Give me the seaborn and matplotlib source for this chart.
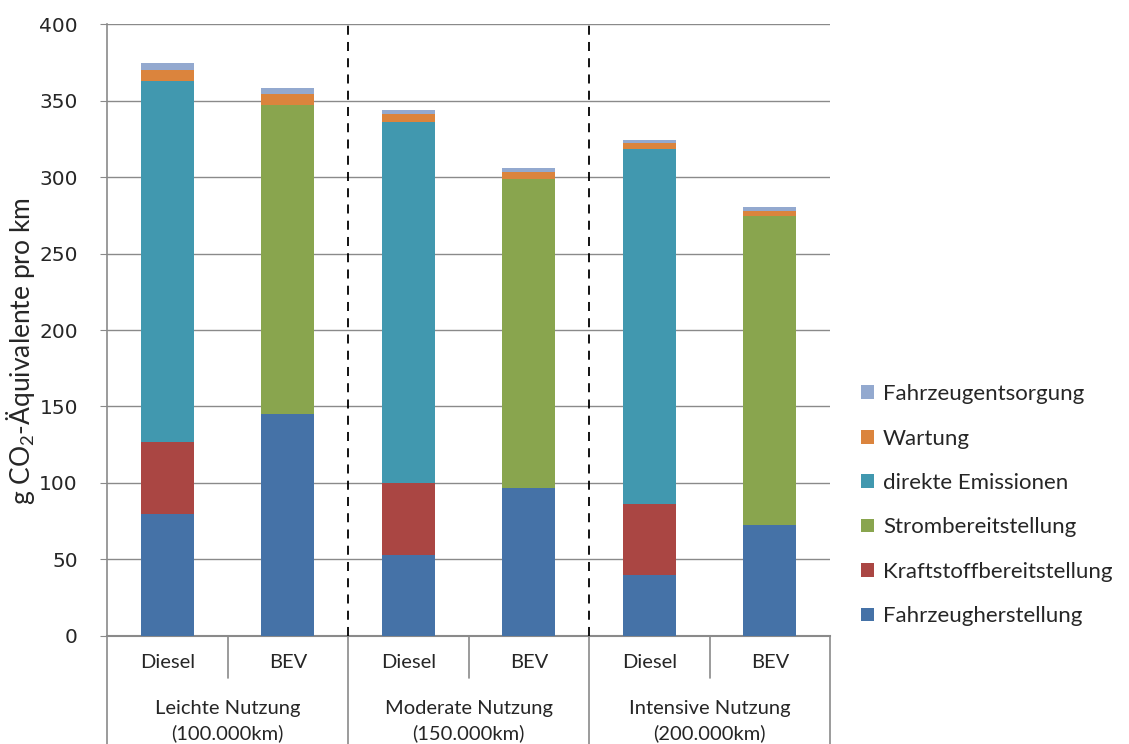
import numpy as np
import pandas as pd
import matplotlib
matplotlib.use("Agg")
import matplotlib.pyplot as plt
import seaborn as sns

# bar order: (use, powertrain)
bars = ["L-Diesel", "L-BEV", "M-Diesel", "M-BEV", "I-Diesel", "I-BEV"]
bar_labels = ["Diesel", "BEV", "Diesel", "BEV", "Diesel", "BEV"]
groups = ["Leichte Nutzung\n(100.000km)", "Moderate Nutzung\n(150.000km)", "Intensive Nutzung\n(200.000km)"]

# stack components, bottom to top
fahrzeugherstellung = [80, 145, 53, 97, 40, 72.5]
kraftstoffbereitstellung = [47, 0, 47, 0, 46, 0]
strombereitstellung = [0, 202, 0, 202, 0, 202]
direkte_emissionen = [236, 0, 236, 0, 232, 0]
wartung = [7, 7, 5, 4.5, 4, 3.5]
fahrzeugentsorgung = [4.5, 4.5, 3, 2.5, 2, 2.5]

components = ["Fahrzeugherstellung", "Kraftstoffbereitstellung", "Strombereitstellung",
              "direkte Emissionen", "Wartung", "Fahrzeugentsorgung"]
values = [fahrzeugherstellung, kraftstoffbereitstellung, strombereitstellung,
          direkte_emissionen, wartung, fahrzeugentsorgung]
colors = ["#4572A7", "#AA4643", "#89A54E", "#4198AF", "#DB843D", "#93A9CF"]

sns.set_style("white")
plt.rcParams['font.family'] = ['Lato', 'DejaVu Sans']
plt.rcParams['mathtext.default'] = 'regular'

df = pd.DataFrame(values, index=components, columns=bars).T
cum = df.cumsum(axis=1)

fig = plt.figure(figsize=(11.29, 7.44), dpi=100)
ax = fig.add_axes([0.0948, 0.1452, 0.6405, 0.8225])

# draw cumulative totals from top component down so each layer shows
for comp, col in reversed(list(zip(components, colors))):
    d = pd.DataFrame({"bar": bars, "val": cum[comp].values})
    sns.barplot(data=d, x="bar", y="val", order=bars, color=col, width=0.44,
                saturation=1, linewidth=0, ax=ax, label=comp, zorder=3)

ax.set_ylim(0, 400)
ax.set_xlim(-0.5, 5.5)
ax.set_yticks(np.arange(0, 401, 50))
ax.yaxis.grid(True, color="#8a8a8a", linewidth=1)
ax.set_axisbelow(True)
ax.set_xticks([])
ax.set_xlabel("")
ax.set_ylabel("g CO$_2$-Äquivalente pro km", fontsize=19)
ax.yaxis.set_label_coords(-0.097, 0.465)
for lab in ax.get_yticklabels():
    lab.set_fontfamily("DejaVu Sans")
    lab.set_fontsize(14.5)
ax.tick_params(axis="y", left=True, length=5, color="#8a8a8a", pad=16)
for s in ["top", "right"]:
    ax.spines[s].set_visible(False)
ax.spines["left"].set_color("#8a8a8a")
ax.spines["bottom"].set_color("#8a8a8a")
ax.spines["left"].set_linewidth(1.2)
ax.spines["bottom"].set_linewidth(1.5)

# dashed group separators
for xs in [1.5, 3.5]:
    ax.axvline(xs, color="black", linestyle=(0, (5, 4)), linewidth=1.3, zorder=4)

# category table below the axis
trans = ax.get_xaxis_transform()
for i, lab in enumerate(bar_labels):
    ax.text(i, -0.044, lab, transform=trans, ha="center", va="center", fontsize=14.5)
for g, lab in enumerate(groups):
    ax.text(2 * g + 0.5, -0.139, lab, transform=trans, ha="center", va="center",
            fontsize=14.5, linespacing=1.5)
for xs in [-0.5, 1.5, 3.5, 5.5]:
    ax.plot([xs, xs], [0, -0.18], transform=trans, color="#8a8a8a", lw=1.2, clip_on=False)
for xs in [0.5, 2.5, 4.5]:
    ax.plot([xs, xs], [0, -0.069], transform=trans, color="#8a8a8a", lw=1.2, clip_on=False)

handles, labels = ax.get_legend_handles_labels()
order = [labels.index(c) for c in reversed(components)]
ax.legend([handles[i] for i in order], [labels[i] for i in order],
          loc="center left", bbox_to_anchor=(0.745, 0.321), bbox_transform=fig.transFigure,
          frameon=False, fontsize=16, labelspacing=1.1, handlelength=0.58,
          handleheight=0.58, handletextpad=0.4)

plt.savefig("out.png", dpi=100)
